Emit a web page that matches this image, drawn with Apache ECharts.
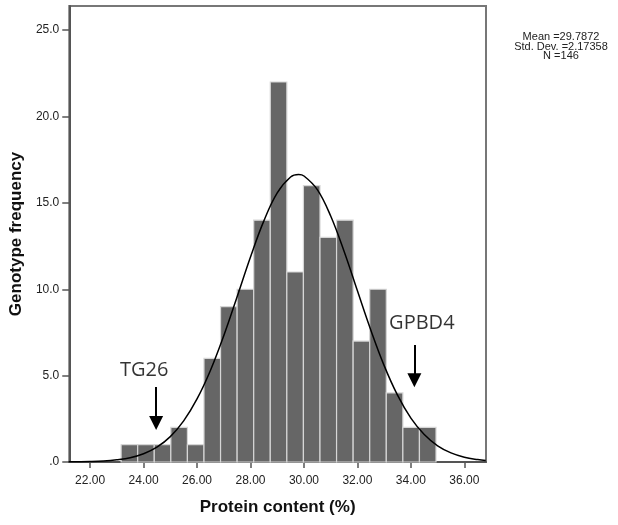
<!DOCTYPE html>
<html>
<head>
<meta charset="utf-8">
<script src="https://cdn.jsdelivr.net/npm/echarts@6/dist/echarts.min.js"></script>
<style>
html,body{margin:0;padding:0;background:#fff;}
#chart{width:618px;height:525px;}
</style>
</head>
<body>
<div id="chart"></div>
<script>
// ---- data ----
const binEdges = [23.16, 23.78, 24.40, 25.02, 25.64, 26.26, 26.88, 27.50, 28.12, 28.74,
                  29.36, 29.98, 30.60, 31.22, 31.84, 32.46, 33.08, 33.70, 34.32, 34.94];
const counts = [1, 1, 1, 2, 1, 6, 9, 10, 14, 22, 11, 16, 13, 14, 7, 10, 4, 2, 2];

const curveX = [21.2, 22, 22.5, 23, 23.5, 24, 24.5, 25, 25.5, 26, 26.5, 27, 27.5, 28, 28.5, 29, 29.5, 29.8,
                30, 30.5, 31, 31.5, 32, 32.5, 33, 33.5, 34, 34.5, 35, 35.5, 36, 36.5, 36.8];
const curveY = [0.01, 0.03, 0.06, 0.13, 0.25, 0.48, 0.86, 1.47, 2.38, 3.65, 5.30, 7.31, 9.57, 11.87, 13.96, 15.58, 16.50, 16.64,
                16.56, 15.77, 14.24, 12.20, 9.91, 7.64, 5.58, 3.87, 2.54, 1.59, 0.94, 0.53, 0.28, 0.14, 0.09];

const xTicks = [22, 24, 26, 28, 30, 32, 34, 36];
const yTicks = [0, 5, 10, 15, 20, 25];
const statsLines = ['Mean =29.7872', 'Std. Dev. =2.17358', 'N =146'];

const annotNames = ['TG26', 'GPBD4'];
const annotTextX = [24.02, 34.41];
const annotTextY = [5.3, 8.03];
const arrowX = [24.47, 34.13];
const arrowTop = [4.34, 6.77];
const arrowEnd = [2.26, 4.73];

// ---- build chart ----
const chart = echarts.init(document.getElementById('chart'), null, {renderer: 'canvas'});

const barData = counts.map((c, i) => [binEdges[i], binEdges[i + 1], c]);
const curveData = curveX.map((x, i) => [x, curveY[i]]);
const annotData = annotNames.map((n, i) => ({name: n, value: [annotTextX[i], annotTextY[i]]}));
const arrowData = arrowX.map((x, i) => [{coord: [x, arrowTop[i]]}, {coord: [x, arrowEnd[i]]}]);

const axisColor = '#555';
const labelFont = {fontFamily: 'Liberation Sans, Arial, sans-serif', fontSize: 12, color: '#222'};

const option = {
  backgroundColor: '#fff',
  animation: false,
  grid: {left: 66, right: 132, top: 6, bottom: 63, show: true, borderColor: '#777', borderWidth: 2, backgroundColor: 'transparent'},
  xAxis: {
    type: 'value', min: 21.22, max: 36.81,
    name: 'Protein content (%)', nameLocation: 'middle', nameGap: 37,
    nameTextStyle: {fontFamily: 'Liberation Sans, Arial, sans-serif', fontSize: 17, fontWeight: 'bold', color: '#111'},
    axisLine: {show: true, onZero: false, lineStyle: {color: axisColor, width: 2}},
    axisTick: {show: true, length: 6, lineStyle: {color: axisColor, width: 1.5}, customValues: xTicks},
    axisLabel: Object.assign({margin: 13, customValues: xTicks, formatter: v => v.toFixed(2)}, labelFont),
    splitLine: {show: false}
  },
  yAxis: {
    type: 'value', min: 0, max: 26.4,
    name: 'Genotype frequency', nameLocation: 'middle', nameGap: 37,
    nameTextStyle: {fontFamily: 'Liberation Sans, Arial, sans-serif', fontSize: 17, fontWeight: 'bold', color: '#111'},
    axisLine: {show: true, onZero: false, lineStyle: {color: axisColor, width: 2}},
    axisTick: {show: true, length: 7, lineStyle: {color: axisColor, width: 1.5}, customValues: yTicks},
    axisLabel: Object.assign({margin: 10, customValues: yTicks, formatter: v => (v === 0 ? '.0' : v.toFixed(1))}, labelFont),
    splitLine: {show: false}
  },
  series: [
    {
      type: 'custom',
      data: barData,
      encode: {x: [0, 1], y: 2},
      renderItem: function (params, api) {
        const p0 = api.coord([api.value(0), api.value(2)]);
        const p1 = api.coord([api.value(1), 0]);
        return {
          type: 'rect',
          shape: {x: p0[0], y: p0[1], width: p1[0] - p0[0], height: p1[1] - p0[1]},
          style: {fill: '#666666', stroke: '#d6d6d6', lineWidth: 1.2}
        };
      },
      z: 2
    },
    {
      type: 'line',
      data: curveData,
      smooth: 0.4,
      showSymbol: false,
      symbol: 'none',
      lineStyle: {color: '#000', width: 1.5},
      z: 3
    },
    {
      type: 'scatter',
      data: annotData,
      symbolSize: 0,
      label: {show: true, position: 'inside', formatter: '{b}', fontFamily: 'Open Sans, sans-serif', fontSize: 20, color: '#000'},
      markLine: {
        silent: true,
        symbol: ['none', 'triangle'],
        symbolSize: 14,
        label: {show: false},
        lineStyle: {color: '#000', width: 2, type: 'solid'},
        data: arrowData
      },
      z: 4
    }
  ],
  graphic: statsLines.map((t, i) => ({
    type: 'text',
    left: null,
    x: 561, y: 37 + i * 9.5,
    style: {text: t, fill: '#222', font: '11px "Liberation Sans", Arial, sans-serif', align: 'center', verticalAlign: 'middle'}
  }))
};
chart.setOption(option);
</script>
</body>
</html>
